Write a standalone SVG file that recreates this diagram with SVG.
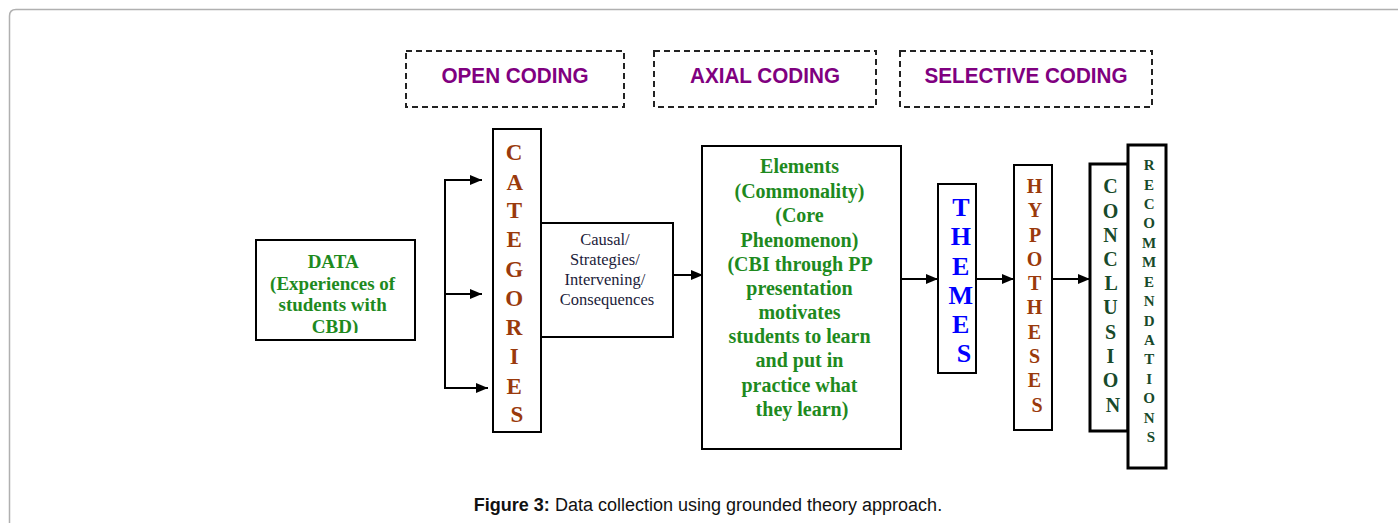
<svg xmlns="http://www.w3.org/2000/svg" width="1398" height="523" viewBox="0 0 1398 523">
<style>
.box{fill:#fff;stroke:#000;stroke-width:2}
.thick{fill:#fff;stroke:#000;stroke-width:3}
.dash{fill:none;stroke:#222;stroke-width:2;stroke-dasharray:6 4}
.head{font-family:"Liberation Sans",Arial,sans-serif;font-weight:bold;font-size:22px;fill:#800080;text-anchor:middle}
.serifb{font-family:"Liberation Serif","Times New Roman",serif;font-weight:bold;text-anchor:middle}
.green{fill:#1e8a1e}
.brown{fill:#9a3a0c}
.blue{fill:#0000ff}
.dgreen{fill:#184a2a}
.conn{stroke:#000;stroke-width:2;fill:none}
</style>
<defs>
<marker id="arr" viewBox="0 0 12 10" refX="12" refY="5" markerWidth="12" markerHeight="10" markerUnits="userSpaceOnUse" orient="auto">
<path d="M0,0 L12,5 L0,10 z" fill="#000"/>
</marker>
<clipPath id="dclip"><rect x="256" y="240" width="159" height="93"/></clipPath>
</defs>
<rect width="1398" height="523" fill="#fff"/>
<path d="M9.5,523 L9.5,16 Q9.5,9.5 16,9.5 L1398,9.5" fill="none" stroke="#b0b0b0" stroke-width="1.5"/>

<g id="open-coding">
<rect class="dash" x="406" y="51" width="218" height="56"/>
<text class="head" x="515" y="83" textLength="147" lengthAdjust="spacingAndGlyphs">OPEN CODING</text>
</g>
<g id="axial-coding">
<rect class="dash" x="654" y="51" width="222" height="56"/>
<text class="head" x="765" y="83" textLength="150" lengthAdjust="spacingAndGlyphs">AXIAL CODING</text>
</g>
<g id="selective-coding">
<rect class="dash" x="900" y="51" width="252" height="56"/>
<text class="head" x="1026" y="83" textLength="203" lengthAdjust="spacingAndGlyphs">SELECTIVE CODING</text>
</g>

<g id="data">
<rect class="box" x="256" y="240" width="159" height="100"/>
<g clip-path="url(#dclip)">
<text class="serifb green" font-size="19" x="335">
<tspan x="335" y="268">DATA</tspan>
<tspan x="335" y="290">(Experiences of</tspan>
<tspan x="335" y="311">students with</tspan>
<tspan x="335" y="333">CBD)</tspan>
</text>
</g>
</g>

<g id="categories">
<rect class="box" x="493" y="129" width="48" height="303"/>
<text class="serifb brown" font-size="23">
<tspan x="517" y="160">C</tspan>
<tspan x="517" y="190">A</tspan>
<tspan x="517" y="218">T</tspan>
<tspan x="517" y="247">E</tspan>
<tspan x="517" y="277">G</tspan>
<tspan x="517" y="306">O</tspan>
<tspan x="517" y="335">R</tspan>
<tspan x="517" y="364">I</tspan>
<tspan x="517" y="394">E</tspan>
<tspan x="517" y="422">S</tspan>
</text>
</g>

<g id="causal">
<rect class="box" x="541" y="223" width="132" height="114"/>
<text font-family="'Liberation Serif','Times New Roman',serif" font-size="16.5" fill="#1c1c3a" text-anchor="middle">
<tspan x="607" y="245">Causal/</tspan>
<tspan x="607" y="265">Strategies/</tspan>
<tspan x="607" y="285">Intervening/</tspan>
<tspan x="607" y="305">Consequences</tspan>
</text>
</g>

<g id="elements">
<rect class="box" x="702" y="146" width="199" height="303"/>
<text class="serifb green" font-size="20">
<tspan x="802" y="173">Elements</tspan>
<tspan x="802" y="198">(Commonality)</tspan>
<tspan x="802" y="222">(Core</tspan>
<tspan x="802" y="247">Phenomenon)</tspan>
<tspan x="802" y="271">(CBI through PP</tspan>
<tspan x="802" y="295">presentation</tspan>
<tspan x="802" y="319">motivates</tspan>
<tspan x="802" y="343">students to learn</tspan>
<tspan x="802" y="367">and put in</tspan>
<tspan x="802" y="392">practice what</tspan>
<tspan x="802" y="416">they learn)</tspan>
</text>
</g>

<g id="themes">
<rect class="box" x="938" y="184" width="38" height="189"/>
<text class="serifb blue" font-size="26">
<tspan x="964" y="216">T</tspan>
<tspan x="964" y="245">H</tspan>
<tspan x="964" y="275">E</tspan>
<tspan x="964" y="304">M</tspan>
<tspan x="964" y="333">E</tspan>
<tspan x="964" y="362">S</tspan>
</text>
</g>

<g id="hypotheses">
<rect class="box" x="1014" y="165" width="38" height="265"/>
<text class="serifb brown" font-size="20">
<tspan x="1037" y="193">H</tspan>
<tspan x="1037" y="217">Y</tspan>
<tspan x="1037" y="242">P</tspan>
<tspan x="1037" y="266">O</tspan>
<tspan x="1037" y="290">T</tspan>
<tspan x="1037" y="314">H</tspan>
<tspan x="1037" y="339">E</tspan>
<tspan x="1037" y="363">S</tspan>
<tspan x="1037" y="387">E</tspan>
<tspan x="1037" y="412">S</tspan>
</text>
</g>

<g id="conclusion">
<rect class="thick" x="1090" y="164" width="38" height="267"/>
<text class="serifb dgreen" font-size="20">
<tspan x="1113" y="193">C</tspan>
<tspan x="1113" y="218">O</tspan>
<tspan x="1113" y="242">N</tspan>
<tspan x="1113" y="266">C</tspan>
<tspan x="1113" y="290">L</tspan>
<tspan x="1113" y="314">U</tspan>
<tspan x="1113" y="339">S</tspan>
<tspan x="1113" y="363">I</tspan>
<tspan x="1113" y="387">O</tspan>
<tspan x="1113" y="412">N</tspan>
</text>
</g>

<g id="recommendations">
<rect class="thick" x="1128" y="145" width="38" height="323"/>
<text class="serifb dgreen" font-size="15">
<tspan x="1151" y="170">R</tspan>
<tspan x="1151" y="190">E</tspan>
<tspan x="1151" y="209">C</tspan>
<tspan x="1151" y="228">O</tspan>
<tspan x="1151" y="248">M</tspan>
<tspan x="1151" y="267">M</tspan>
<tspan x="1151" y="287">E</tspan>
<tspan x="1151" y="306">N</tspan>
<tspan x="1151" y="326">D</tspan>
<tspan x="1151" y="345">A</tspan>
<tspan x="1151" y="364">T</tspan>
<tspan x="1151" y="384">I</tspan>
<tspan x="1151" y="403">O</tspan>
<tspan x="1151" y="423">N</tspan>
<tspan x="1151" y="442">S</tspan>
</text>
</g>

<g id="connectors">
<line class="conn" x1="445" y1="179" x2="445" y2="389"/>
<line class="conn" x1="444" y1="180" x2="482" y2="180" marker-end="url(#arr)"/>
<line class="conn" x1="444" y1="294" x2="482" y2="294" marker-end="url(#arr)"/>
<line class="conn" x1="444" y1="388" x2="488" y2="388" marker-end="url(#arr)"/>
<line class="conn" x1="673" y1="275" x2="703" y2="275" marker-end="url(#arr)"/>
<line class="conn" x1="901" y1="279" x2="938" y2="279" marker-end="url(#arr)"/>
<line class="conn" x1="976" y1="279" x2="1014" y2="279" marker-end="url(#arr)"/>
<line class="conn" x1="1052" y1="279" x2="1090" y2="279" marker-end="url(#arr)"/>
</g>

<text x="708" y="511" font-family="'Liberation Sans',Arial,sans-serif" font-size="18" fill="#111" text-anchor="middle"><tspan font-weight="bold">Figure 3:</tspan> Data collection using grounded theory approach.</text>
</svg>
